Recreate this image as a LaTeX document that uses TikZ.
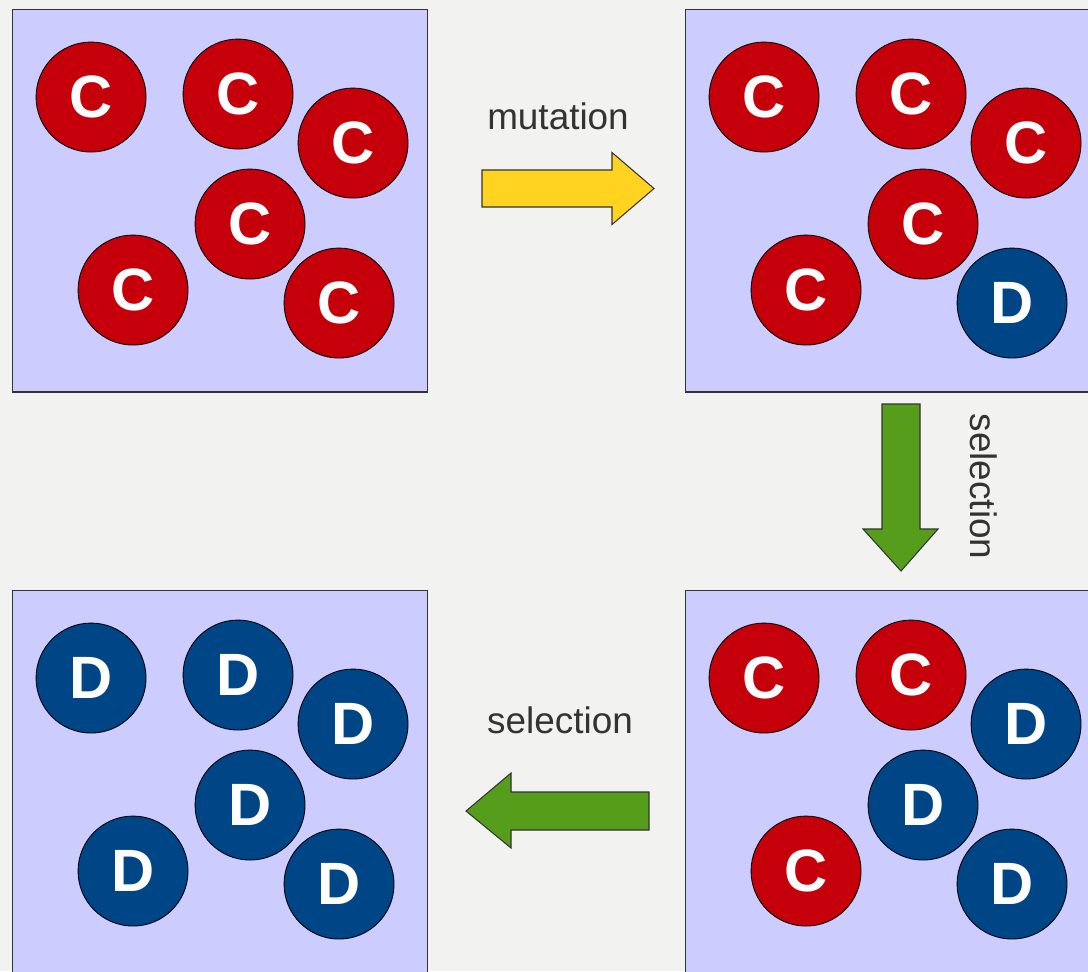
\documentclass[tikz,border=0pt]{standalone}
\usepackage{fontspec}
\setmainfont{Liberation Sans}
\usepackage{xcolor}
\usetikzlibrary{positioning}

\definecolor{paper}{HTML}{F2F2F0}
\definecolor{pool}{HTML}{CCCCFF}
\definecolor{fillC}{HTML}{C5000B}
\definecolor{fillD}{HTML}{004586}
\definecolor{mutyellow}{HTML}{FFD320}
\definecolor{selgreen}{HTML}{579D1C}
\definecolor{labelgray}{HTML}{333333}

\tikzset{
    panel/.style = {
        draw = labelgray, fill = pool, line width = 0.6pt,
        minimum width = 8.32cm, minimum height = 7.66cm,
        outer sep = 0pt
    },
    cell/.style = {
        circle, draw = black, fill = fill#1, line width = 0.5pt,
        minimum size = 2.2cm, inner sep = 0pt,
        text = white, font = \bfseries\fontsize{34}{40}\selectfont
    },
    blockarrow/.style = {draw = labelgray, line width = 0.6pt, line join = miter},
    caption/.style = {text = labelgray, font = \fontsize{21}{25}\selectfont, inner sep = 0pt}
}

\begin{document}
\begin{tikzpicture}[x=0.02cm, y=-0.02cm]

    % page
    \useasboundingbox (0,0) rectangle (1088,971);
    \fill[paper] (0,0) rectangle (1088,971);

    % Populations
    \node[panel] (pA) at (220,200.5) {};
    \node[panel] (pB) at (893,200.5) {};
    \node[panel] (pC) at (220,781.5) {};
    \node[panel] (pD) at (893,781.5) {};

    % Individuals, same spots in every panel
    \foreach \p/\a/\b/\c/\d/\e/\f in {pA/C/C/C/C/C/C, pB/C/C/C/C/C/D,
                                     pC/D/D/D/D/D/D, pD/C/C/D/D/C/D} {
        \node[cell=\a] (\p1) at ([shift={(79,88)}]\p.north west) {\a};
        \node[cell=\b] (\p2) at ([shift={(226,85)}]\p.north west) {\b};
        \node[cell=\c] (\p3) at ([shift={(341,134)}]\p.north west) {\c};
        \node[cell=\d] (\p4) at ([shift={(238,215)}]\p.north west) {\d};
        \node[cell=\e] (\p5) at ([shift={(121,281)}]\p.north west) {\e};
        \node[cell=\f] (\p6) at ([shift={(327,294)}]\p.north west) {\f};
    }

    % Arrows
    \draw[blockarrow, fill=mutyellow] (482,170) -- (612,170) -- (612,152.5) -- (654,188.5)
        -- (612,224.5) -- (612,207) -- (482,207) -- cycle;
    \draw[blockarrow, fill=selgreen] (882,404) -- (920,404) -- (920,529) -- (938,529)
        -- (901,571) -- (863,529) -- (882,529) -- cycle;
    \draw[blockarrow, fill=selgreen] (649,792) -- (649,830) -- (511,830) -- (511,848)
        -- (466,811) -- (511,773) -- (511,792) -- cycle;

    % Labels
    \node[caption, anchor=base] (mut) at (558,129) {mutation};
    \node[caption, anchor=base, rotate=-90] (selA) at (970,486.5) {selection};
    \node[caption, anchor=base] (selB) at (560,733) {selection};

\end{tikzpicture}
\end{document}
